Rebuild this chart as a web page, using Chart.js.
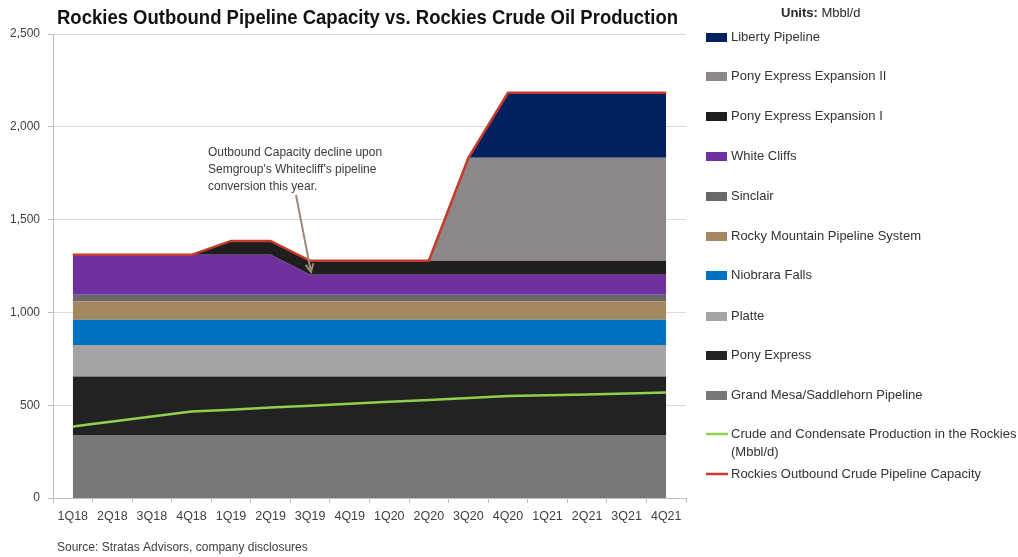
<!DOCTYPE html>
<html><head><meta charset="utf-8">
<script src="https://cdn.jsdelivr.net/npm/chart.js@4/dist/chart.umd.min.js"></script>
<style>html,body{margin:0;padding:0;background:#fff;}#wrap{position:relative;width:1018px;height:557px;}</style>
</head><body><div id="wrap"><canvas id="c" width="1018" height="557"></canvas></div>
<script>
const categories = ['1Q18','2Q18','3Q18','4Q18','1Q19','2Q19','3Q19','4Q19','1Q20','2Q20','3Q20','4Q20','1Q21','2Q21','3Q21','4Q21'];
const yTicks = [0, 500, 1000, 1500, 2000, 2500];
const grandMesa      = [340,340,340,340,340,340,340,340,340,340,340,340,340,340,340,340];
const ponyExpress    = [315,315,315,315,315,315,315,315,315,315,315,315,315,315,315,315];
const platte         = [170,170,170,170,170,170,170,170,170,170,170,170,170,170,170,170];
const niobrara       = [135,135,135,135,135,135,135,135,135,135,135,135,135,135,135,135];
const rockyMountain  = [100,100,100,100,100,100,100,100,100,100,100,100,100,100,100,100];
const sinclair       = [35,35,35,35,35,35,35,35,35,35,35,35,35,35,35,35];
const whiteCliffs    = [215,215,215,215,215,215,108,108,108,108,108,108,108,108,108,108];
const ponyExpExpI    = [0,0,0,0,75,75,75,75,75,75,75,75,75,75,75,75];
const ponyExpExpII   = [0,0,0,0,0,0,0,0,0,0,555,555,555,555,555,555];
const liberty        = [0,0,0,0,0,0,0,0,0,0,0,350,350,350,350,350];
const production     = [385,412,439,466,476,487,497,508,518,528,539,549,554,558,563,568];
const capacity       = [1310,1310,1310,1310,1385,1385,1278,1278,1278,1278,1833,2183,2183,2183,2183,2183];

const FONT = "'Liberation Sans', Arial, sans-serif";

function area(label, data, color, first) {
  return { label, data, stack: 'pipes', backgroundColor: color, borderColor: color,
           borderWidth: 0, pointRadius: 0, fill: first ? 'origin' : '-1', tension: 0 };
}

const areaSets = [
  area('Grand Mesa/Saddlehorn Pipeline', grandMesa, '#787878', true),
  area('Pony Express', ponyExpress, '#222222'),
  area('Platte', platte, '#a7a4a4'),
  area('Niobrara Falls', niobrara, '#0070c0'),
  area('Rocky Mountain Pipeline System', rockyMountain, '#a4885f'),
  area('Sinclair', sinclair, '#6a676b'),
  area('White Cliffs', whiteCliffs, '#7030a0'),
  area('Pony Express Expansion I', ponyExpExpI, '#1e1e1e'),
  area('Pony Express Expansion II', ponyExpExpII, '#8c8888'),
  area('Liberty Pipeline', liberty, '#03205f')
];
const lineSets = [
  { label: 'Rockies Outbound Crude Pipeline Capacity', data: capacity, stack: 'cap',
    borderColor: '#c63a2a', backgroundColor: '#c63a2a', borderWidth: 2.5, pointRadius: 0, fill: false, tension: 0 },
  { label: 'Crude and Condensate Production in the Rockies\n(Mbbl/d)', data: production, stack: 'prod',
    borderColor: '#8fd14f', backgroundColor: '#8fd14f', borderWidth: 2.5, pointRadius: 0, fill: false, tension: 0 }
];

const extras = {
  id: 'extras',
  afterDraw(chart) {
    const ctx = chart.ctx;
    ctx.save();
    // Title
    const title = 'Rockies Outbound Pipeline Capacity vs. Rockies Crude Oil Production';
    ctx.font = "bold 21px " + FONT;
    ctx.fillStyle = '#111111';
    ctx.textBaseline = 'middle';
    ctx.textAlign = 'left';
    const tw = ctx.measureText(title).width;
    ctx.save();
    ctx.translate(57, 18);
    ctx.scale(621 / tw, 1);
    ctx.fillText(title, 0, 0);
    ctx.restore();

    // Units
    ctx.font = "bold 13px " + FONT;
    ctx.fillStyle = '#262626';
    ctx.fillText('Units:', 781, 13);
    const uw = ctx.measureText('Units: ').width;
    ctx.font = "13px " + FONT;
    ctx.fillText('Mbbl/d', 781 + uw, 13);

    // Legend
    const items = [];
    for (let i = areaSets.length - 1; i >= 0; i--) items.push({ t: 'box', ds: areaSets[i] });
    items.push({ t: 'line', ds: lineSets[1] });
    items.push({ t: 'line', ds: lineSets[0] });
    const ys = [37, 76, 116, 156, 196, 236, 275, 316, 355, 395, 434, 474];
    ctx.font = "13px " + FONT;
    items.forEach((it, k) => {
      const y = ys[k];
      if (it.t === 'box') {
        ctx.fillStyle = it.ds.backgroundColor;
        ctx.fillRect(706, y - 4, 21, 9);
      } else {
        ctx.strokeStyle = it.ds.borderColor;
        ctx.lineWidth = 2.5;
        ctx.beginPath(); ctx.moveTo(706, y); ctx.lineTo(728, y); ctx.stroke();
      }
      ctx.fillStyle = '#333333';
      it.ds.label.split('\n').forEach((ln, j) => ctx.fillText(ln, 731, y + j * 18));
    });

    // Source
    ctx.font = "12px " + FONT;
    ctx.fillStyle = '#404040';
    ctx.fillText('Source: Stratas Advisors, company disclosures', 57, 548);

    // Annotation
    ctx.font = "12px " + FONT;
    ctx.fillStyle = '#3a3a3a';
    ['Outbound Capacity decline upon', "Semgroup's Whitecliff's pipeline", 'conversion this year.']
      .forEach((ln, j) => ctx.fillText(ln, 208, 153 + j * 17));
    // Arrow
    const x0 = 296, y0 = 195, x1 = 311, y1 = 272;
    ctx.strokeStyle = '#9b8b77';
    ctx.lineWidth = 2;
    ctx.beginPath(); ctx.moveTo(x0, y0); ctx.lineTo(x1, y1); ctx.stroke();
    const ang = Math.atan2(y1 - y0, x1 - x0);
    const L = 9, a = 0.45;
    ctx.beginPath();
    ctx.moveTo(x1 - L * Math.cos(ang - a), y1 - L * Math.sin(ang - a));
    ctx.lineTo(x1, y1);
    ctx.lineTo(x1 - L * Math.cos(ang + a), y1 - L * Math.sin(ang + a));
    ctx.stroke();
    ctx.restore();
  }
};

new Chart(document.getElementById('c'), {
  type: 'line',
  data: { labels: categories, datasets: [...lineSets, ...areaSets] },
  options: {
    responsive: false,
    animation: false,
    locale: 'en-US',
    layout: { padding: { top: 34, right: 332, bottom: 0, left: 0 } },
    plugins: { legend: { display: false }, tooltip: { enabled: false }, title: { display: false } },
    elements: { line: { borderJoinStyle: 'miter' } },
    scales: {
      x: {
        type: 'category', offset: true,
        grid: { offset: true, drawOnChartArea: false, drawTicks: true, tickLength: 5, color: '#bfbfbf' },
        border: { color: '#bfbfbf' },
        ticks: { color: '#404040', font: { family: FONT, size: 12.5 }, maxRotation: 0, autoSkip: false, padding: 6 },
        afterFit(s) { s.height = 59; }
      },
      y: {
        stacked: true, min: 0, max: 2500,
        afterBuildTicks(s) { s.ticks = yTicks.map(v => ({ value: v })); },
        grid: { color: '#d9d9d9', tickLength: 5, tickColor: '#bfbfbf' },
        border: { color: '#bfbfbf' },
        ticks: { color: '#404040', font: { family: FONT, size: 12 }, padding: 8,
                 callback: v => v.toLocaleString('en-US') },
        afterFit(s) { s.width = 53; }
      }
    }
  },
  plugins: [extras]
});
</script></body></html>
